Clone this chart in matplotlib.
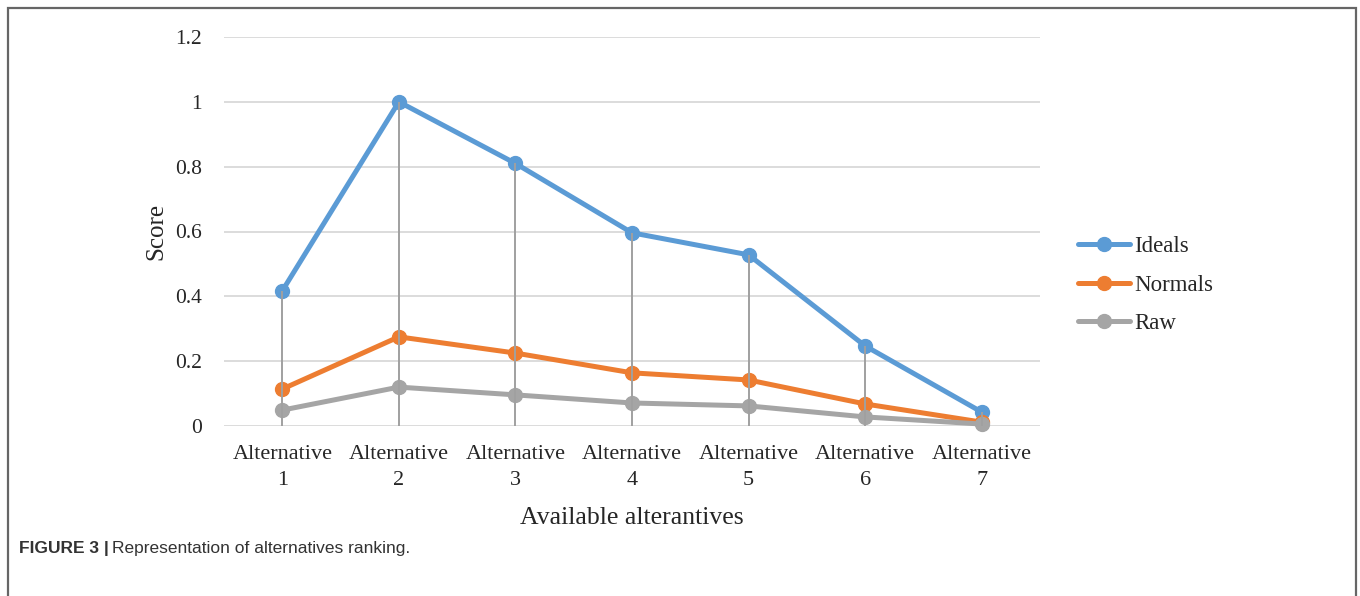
import matplotlib
matplotlib.use("Agg")
import matplotlib.pyplot as plt
from matplotlib.patches import Rectangle
from matplotlib import font_manager

categories = ["Alternative\n1", "Alternative\n2", "Alternative\n3", "Alternative\n4",
              "Alternative\n5", "Alternative\n6", "Alternative\n7"]
ideals = [0.417, 1.0, 0.81, 0.596, 0.528, 0.247, 0.043]
normals = [0.114, 0.275, 0.225, 0.164, 0.142, 0.068, 0.012]
raw = [0.049, 0.120, 0.096, 0.071, 0.062, 0.028, 0.006]
y_ticks = [0, 0.2, 0.4, 0.6, 0.8, 1.0, 1.2]
y_tick_labels = ["0", "0.2", "0.4", "0.6", "0.8", "1", "1.2"]

BLUE = "#5B9BD5"
ORANGE = "#ED7D31"
GRAY = "#A5A5A5"
TEXT = "#262626"

serif = ["Liberation Serif", "DejaVu Serif"]
available = {f.name for f in font_manager.fontManager.ttflist}
narrow = "Liberation Sans Narrow" if "Liberation Sans Narrow" in available else "Liberation Sans"

W, H = 1360, 596
fig = plt.figure(figsize=(W / 100, H / 100), dpi=100)
ax = fig.add_axes([224 / W, 170 / H, 816 / W, 389 / H])

x = list(range(len(categories)))

for yt in y_ticks:
    ax.axhline(yt, color="#D9D9D9", lw=1.3, zorder=0)

series = [("Ideals", ideals, BLUE), ("Normals", normals, ORANGE), ("Raw", raw, GRAY)]
for name, vals, col in series:
    ax.plot(x, vals, color=col, lw=3.6, marker="o", markersize=10,
            markeredgecolor=col, label=name, zorder=2, solid_capstyle="round",
            clip_on=False)

# drop lines from the highest series down to the axis
tops = [max(a, b, c) for a, b, c in zip(ideals, normals, raw)]
ax.vlines(x, 0, tops, color="#A0A0A0", lw=1.4, zorder=3)

ax.set_xlim(-0.5, len(categories) - 0.5)
ax.set_ylim(0, 1.2)
ax.set_yticks(y_ticks)
ax.set_yticklabels(y_tick_labels, fontfamily=serif, fontsize=15.5)
ax.set_xticks(x)
ax.set_xticklabels(categories, fontfamily=serif, fontsize=16, linespacing=1.5)
ax.tick_params(axis="both", length=0, colors=TEXT)
ax.tick_params(axis="y", pad=16)
ax.tick_params(axis="x", pad=14)
for s in ax.spines.values():
    s.set_visible(False)
ax.set_ylabel("Score", fontfamily=serif, fontsize=18, labelpad=5, color=TEXT)
ax.set_xlabel("Available alterantives", fontfamily=serif, fontsize=18.5, labelpad=12,
              color=TEXT)

leg = ax.legend(loc="center left", bbox_to_anchor=(1078 / W, 1 - 285 / H),
                bbox_transform=fig.transFigure, frameon=False,
                prop={"family": serif, "size": 16.5}, handlelength=2.27,
                handletextpad=0.17, labelspacing=0.78, borderpad=0,
                borderaxespad=0)
for t in leg.get_texts():
    t.set_color(TEXT)

# outer frame and caption
fig.patches.append(Rectangle((8 / W, -0.02), 1348 / W, 1.0 - 8 / H + 0.02,
                             transform=fig.transFigure, fill=False,
                             edgecolor="#666666", lw=1.6))
t1 = fig.text(19 / W, 1 - 549 / H, "FIGURE 3 |", fontfamily=[narrow, "DejaVu Sans"],
              fontweight="bold", fontsize=12.5, va="center", ha="left", color="#333333")
fig.canvas.draw()
bb = t1.get_window_extent()
fig.text((bb.x1 + 3) / W, 1 - 549 / H, "Representation of alternatives ranking.",
         fontfamily=[narrow, "DejaVu Sans"], fontsize=12.5, va="center", ha="left",
         color="#333333")

fig.savefig("out.png", dpi=100)
